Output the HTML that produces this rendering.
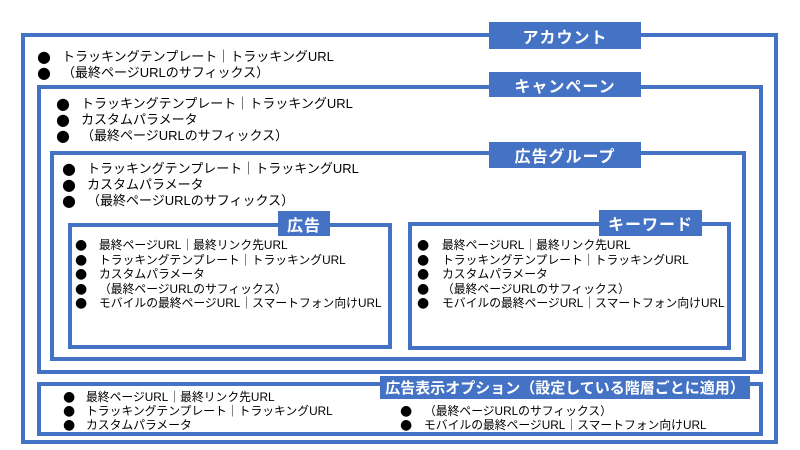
<!DOCTYPE html>
<html><head><meta charset="utf-8"><style>
body{margin:0;width:800px;height:450px;background:#fff;position:relative;overflow:hidden;font-family:"Liberation Sans","Noto Sans CJK JP",sans-serif;}
.b{position:absolute;border:4px solid #4472C4;box-sizing:border-box;}
.l{position:absolute;background:#4472C4;color:#fff;font-size:16px;font-weight:bold;text-align:center;box-sizing:border-box;display:flex;align-items:center;justify-content:center;letter-spacing:1px;white-space:nowrap;}
.t{position:absolute;font-size:13px;color:#000;white-space:nowrap;line-height:14px;}
.s{font-size:11.8px;line-height:14.5px;}
.d{position:absolute;font-size:16px;line-height:14px;font-family:"DejaVu Sans",sans-serif;}
</style></head><body>
<div class="b" style="left:21px;top:33px;width:757px;height:411px"></div>
<div class="b" style="left:37px;top:85px;width:726px;height:289px"></div>
<div class="b" style="left:50px;top:151px;width:696px;height:210px"></div>
<div class="b" style="left:68px;top:223px;width:324px;height:126px"></div>
<div class="b" style="left:408px;top:222px;width:323px;height:128px"></div>
<div class="b" style="left:37px;top:382px;width:726px;height:54px"></div>

<div class="l" style="left:489px;top:22px;width:152px;height:27px">アカウント</div>
<div class="l" style="left:489px;top:72px;width:152px;height:25px">キャンペーン</div>
<div class="l" style="left:489px;top:142px;width:152px;height:26px">広告グループ</div>
<div class="l" style="left:278px;top:211px;width:52px;height:25px">広告</div>
<div class="l" style="left:599px;top:210px;width:103px;height:26px">キーワード</div>
<div class="l" style="left:380px;top:376px;width:370px;height:23px;font-size:15px;letter-spacing:0">広告表示オプション（設定している階層ごとに適用）</div>

<div class="d" style="left:37px;top:49px;line-height:16px">●<br>●</div>
<div class="t" style="left:62px;top:49px;line-height:16px">トラッキングテンプレート｜トラッキングURL<br>（最終ページURLのサフィックス）</div>

<div class="d" style="left:56px;top:96px;line-height:16px">●<br>●<br>●</div>
<div class="t" style="left:81px;top:96px;line-height:16px">トラッキングテンプレート｜トラッキングURL<br>カスタムパラメータ<br>（最終ページURLのサフィックス）</div>

<div class="d" style="left:62px;top:161px;line-height:16px">●<br>●<br>●</div>
<div class="t" style="left:87px;top:161px;line-height:16px">トラッキングテンプレート｜トラッキングURL<br>カスタムパラメータ<br>（最終ページURLのサフィックス）</div>

<div class="d" style="left:75px;top:238px;line-height:14.5px;font-size:14px">●<br>●<br>●<br>●<br>●</div>
<div class="t s" style="left:99px;top:238px">最終ページURL｜最終リンク先URL<br>トラッキングテンプレート｜トラッキングURL<br>カスタムパラメータ<br>（最終ページURLのサフィックス）<br>モバイルの最終ページURL｜スマートフォン向けURL</div>

<div class="d" style="left:417px;top:238px;line-height:14.5px;font-size:14px">●<br>●<br>●<br>●<br>●</div>
<div class="t s" style="left:442px;top:238px">最終ページURL｜最終リンク先URL<br>トラッキングテンプレート｜トラッキングURL<br>カスタムパラメータ<br>（最終ページURLのサフィックス）<br>モバイルの最終ページURL｜スマートフォン向けURL</div>

<div class="d" style="left:63px;top:390px;font-size:14px">●<br>●<br>●</div>
<div class="t s" style="left:86px;top:390px;line-height:14px">最終ページURL｜最終リンク先URL<br>トラッキングテンプレート｜トラッキングURL<br>カスタムパラメータ</div>

<div class="d" style="left:400px;top:404px;font-size:14px">●<br>●</div>
<div class="t s" style="left:424px;top:404px;line-height:14px">（最終ページURLのサフィックス）<br>モバイルの最終ページURL｜スマートフォン向けURL</div>
</body></html>
